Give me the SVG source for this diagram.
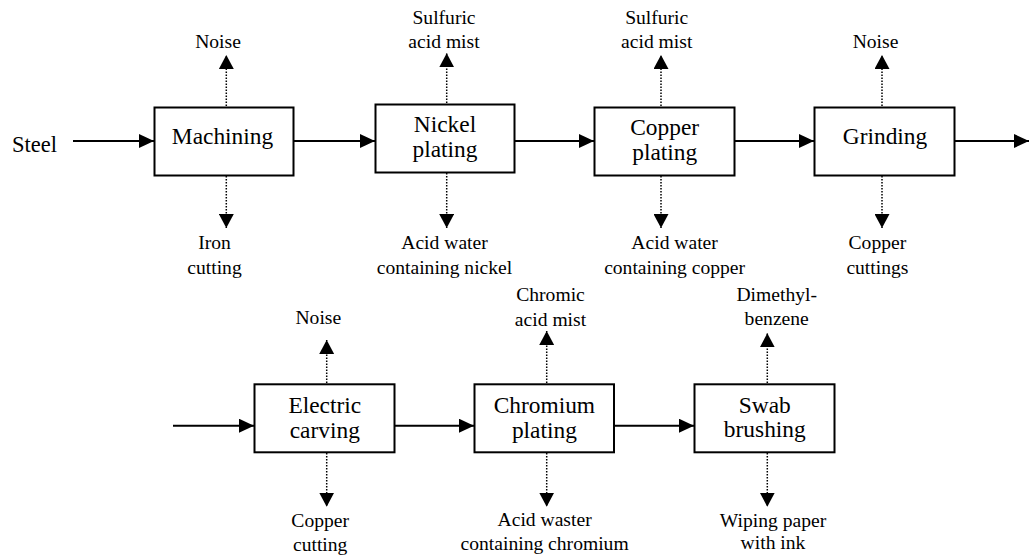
<svg xmlns="http://www.w3.org/2000/svg" width="1029" height="558" viewBox="0 0 1029 558">
<style>
text{fill:#000;text-anchor:middle}
.b{font-size:23.4px}
.s{font-size:19.6px}
.box{fill:#fff;stroke:#000;stroke-width:2}
.flow{stroke:#000;stroke-width:2;fill:none}
.dot{stroke:#000;stroke-width:1.5;stroke-dasharray:1.5 1.5;fill:none}
</style>
<defs>
<marker id="ah" markerUnits="userSpaceOnUse" markerWidth="15" markerHeight="14" refX="15" refY="7" orient="auto" viewBox="0 0 15 14">
<path d="M0,0 L15,7 L0,14 z" fill="#000"/>
</marker>
<marker id="dh" markerUnits="userSpaceOnUse" markerWidth="14" markerHeight="15" refX="14" refY="7.5" orient="auto" viewBox="0 0 14 15">
<path d="M0,0 L14,7.5 L0,15 z" fill="#000"/>
</marker>
</defs>
<rect width="1029" height="558" fill="#fff"/>
<g id="connectors">
<line class="flow" x1="73" y1="141" x2="154" y2="141" marker-end="url(#ah)"/>
<line class="flow" x1="294" y1="141" x2="375" y2="141" marker-end="url(#ah)"/>
<line class="flow" x1="515" y1="141" x2="594" y2="141" marker-end="url(#ah)"/>
<line class="flow" x1="735" y1="141" x2="814" y2="141" marker-end="url(#ah)"/>
<line class="flow" x1="955" y1="141" x2="1029" y2="141" marker-end="url(#ah)"/>
<line class="flow" x1="173" y1="425.7" x2="254" y2="425.7" marker-end="url(#ah)"/>
<line class="flow" x1="395" y1="425.7" x2="474" y2="425.7" marker-end="url(#ah)"/>
<line class="flow" x1="614" y1="425.7" x2="694" y2="425.7" marker-end="url(#ah)"/>
<line class="dot" x1="226.3" y1="106" x2="226.3" y2="55" marker-end="url(#dh)"/>
<line class="dot" x1="226.3" y1="176" x2="226.3" y2="228" marker-end="url(#dh)"/>
<line class="dot" x1="446.7" y1="103" x2="446.7" y2="53.3" marker-end="url(#dh)"/>
<line class="dot" x1="446.7" y1="173" x2="446.7" y2="228" marker-end="url(#dh)"/>
<line class="dot" x1="661" y1="106" x2="661" y2="55" marker-end="url(#dh)"/>
<line class="dot" x1="661" y1="176" x2="661" y2="228" marker-end="url(#dh)"/>
<line class="dot" x1="882" y1="106" x2="882" y2="55" marker-end="url(#dh)"/>
<line class="dot" x1="882" y1="176" x2="882" y2="228" marker-end="url(#dh)"/>
<line class="dot" x1="326.7" y1="383" x2="326.7" y2="340" marker-end="url(#dh)"/>
<line class="dot" x1="326.7" y1="453" x2="326.7" y2="506.7" marker-end="url(#dh)"/>
<line class="dot" x1="546.7" y1="383" x2="546.7" y2="331" marker-end="url(#dh)"/>
<line class="dot" x1="546.7" y1="453" x2="546.7" y2="506.7" marker-end="url(#dh)"/>
<line class="dot" x1="767.3" y1="383" x2="767.3" y2="333.3" marker-end="url(#dh)"/>
<line class="dot" x1="767.3" y1="453" x2="767.3" y2="506.7" marker-end="url(#dh)"/>
</g>
<g font-family="'Liberation Serif', Tinos, 'Times New Roman', 'DejaVu Serif', serif">
<g id="steel">
<text x="34.5" y="151.5" style="font-size:22.5px">Steel</text>
</g>
<g id="machining">
<rect class="box" x="154.5" y="107.5" width="139" height="68"/>
<text class="b" x="222.5" y="143.5">Machining</text>
<text class="s" x="218" y="47.5">Noise</text>
<text class="s" x="214.5" y="249">Iron</text>
<text class="s" x="214.5" y="274">cutting</text>
</g>
<g id="nickel">
<rect class="box" x="375.5" y="104.5" width="139" height="68"/>
<text class="b" x="445" y="131.7">Nickel</text>
<text class="b" x="445" y="156.7">plating</text>
<text class="s" x="444" y="23.5">Sulfuric</text>
<text class="s" x="444" y="48">acid mist</text>
<text class="s" x="444.5" y="249">Acid water</text>
<text class="s" x="444.5" y="274">containing nickel</text>
</g>
<g id="copper">
<rect class="box" x="594.5" y="107.5" width="140" height="68"/>
<text class="b" x="664.7" y="135">Copper</text>
<text class="b" x="664.7" y="160">plating</text>
<text class="s" x="656.7" y="23.5">Sulfuric</text>
<text class="s" x="656.7" y="48">acid mist</text>
<text class="s" x="674.6" y="249">Acid water</text>
<text class="s" x="674.6" y="274">containing copper</text>
</g>
<g id="grinding">
<rect class="box" x="814.5" y="107.5" width="140" height="68"/>
<text class="b" x="885" y="143.5">Grinding</text>
<text class="s" x="875.5" y="47.5">Noise</text>
<text class="s" x="877.4" y="249">Copper</text>
<text class="s" x="877.4" y="274">cuttings</text>
</g>
<g id="electric">
<rect class="box" x="254.5" y="384.3" width="140" height="68"/>
<text class="b" x="324.8" y="413">Electric</text>
<text class="b" x="324.8" y="437.5">carving</text>
<text class="s" x="318.3" y="324">Noise</text>
<text class="s" x="320.2" y="526.7">Copper</text>
<text class="s" x="320.2" y="550.7">cutting</text>
</g>
<g id="chromium">
<rect class="box" x="474.5" y="384.3" width="139.5" height="68"/>
<text class="b" x="544.4" y="413">Chromium</text>
<text class="b" x="544.4" y="437.5">plating</text>
<text class="s" x="550.5" y="301">Chromic</text>
<text class="s" x="550.5" y="325.7">acid mist</text>
<text class="s" x="544.6" y="525.5">Acid waster</text>
<text class="s" x="544.6" y="550">containing chromium</text>
</g>
<g id="swab">
<rect class="box" x="694.5" y="384.3" width="140" height="68"/>
<text class="b" x="764.8" y="412.5">Swab</text>
<text class="b" x="764.8" y="437">brushing</text>
<text class="s" x="776.7" y="300.7">Dimethyl-</text>
<text class="s" x="776.7" y="325">benzene</text>
<text class="s" x="773" y="526.7">Wiping paper</text>
<text class="s" x="773" y="549">with ink</text>
</g>
</g>
</svg>
